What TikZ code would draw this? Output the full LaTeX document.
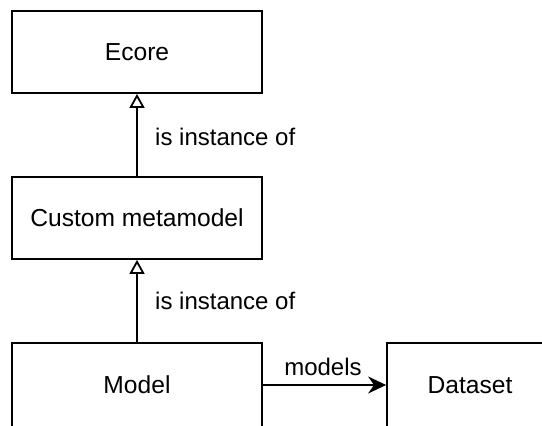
\documentclass[tikz,border=0pt]{standalone}
\usepackage{fontspec}
\setmainfont{Liberation Sans}
\usetikzlibrary{arrows.meta}
\begin{document}
\begin{tikzpicture}[x=1pt,y=-1pt,
  box/.style={draw=black, line width=1.8pt, fill=white, inner sep=0pt,
    font=\fontsize{24.6}{29}\selectfont},
  lbl/.style={font=\fontsize{24}{28}\selectfont, inner sep=0pt},
  inherit/.style={line width=1.8pt, -{Triangle[open, length=14pt, width=15pt, line width=1.8pt]}},
  assoc/.style={line width=1.8pt, -{Stealth[length=18pt, width=17pt, inset=6pt]}}]
  \clip (0,0) rectangle (542,426);
  \fill[white] (0,0) rectangle (542,426);
  % class boxes
  \node[box, minimum width=250pt, minimum height=82pt] (ecore) at (137,52) {Ecore};
  \node[box, minimum width=250pt, minimum height=82pt] (meta) at (137,218) {Custom metamodel};
  \node[box, minimum width=250pt, minimum height=84pt] (model) at (137,385) {Model};
  \node[box, minimum width=166pt, minimum height=84pt] (data) at (470,385) {Dataset};
  % relations
  \draw[inherit] (meta.north) -- (ecore.south);
  \draw[inherit] (model.north) -- (meta.south);
  \draw[assoc] (model.east) -- (data.west);
  % relation labels
  \node[lbl, anchor=west] (l1) at (155,137) {is instance of};
  \node[lbl, anchor=west] (l2) at (155,301) {is instance of};
  \node[lbl] (l3) at (323,367) {models};
\end{tikzpicture}
\end{document}
